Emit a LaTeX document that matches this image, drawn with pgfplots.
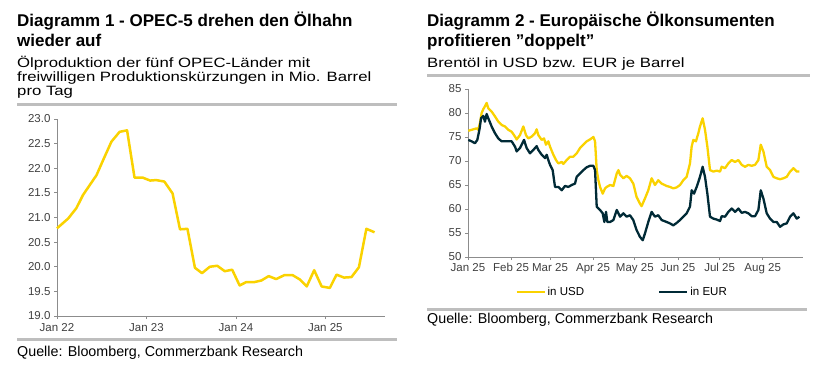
\documentclass[border=0pt]{standalone}
\usepackage{pgfplots}
\pgfplotsset{compat=1.18}
\usepackage{fontspec}
\setmainfont{Liberation Sans}
\newfontfamily\subfont{Liberation Sans}[FakeStretch=1.24]
\definecolor{cbyellow}{RGB}{250,210,0}
\definecolor{cbnavy}{RGB}{0,42,54}
\definecolor{rulegray}{RGB}{190,190,190}
\definecolor{axgray}{RGB}{140,140,140}
\definecolor{tickgray}{RGB}{64,64,64}
\begin{document}
\begin{tikzpicture}
\useasboundingbox (0,0) rectangle (828pt,-376pt);
% titles
\node[anchor=base west,inner sep=0] at (17pt,-26pt) {\fontsize{17}{20}\selectfont\bfseries Diagramm 1 - OPEC-5 drehen den Ölhahn};
\node[anchor=base west,inner sep=0] at (17pt,-46pt) {\fontsize{17}{20}\selectfont\bfseries wieder auf};
\node[anchor=base west,inner sep=0] at (17pt,-67pt) {\subfont\fontsize{13.5}{14}\selectfont Ölproduktion der fünf OPEC-Länder mit};
\node[anchor=base west,inner sep=0] at (17pt,-81pt) {\subfont\fontsize{13.5}{14}\selectfont freiwilligen Produktionskürzungen in Mio. Barrel};
\node[anchor=base west,inner sep=0] at (17pt,-95pt) {\subfont\fontsize{13.5}{14}\selectfont pro Tag};
\node[anchor=base west,inner sep=0] at (427pt,-26pt) {\fontsize{17}{20}\selectfont\bfseries Diagramm 2 - Europäische Ölkonsumenten};
\node[anchor=base west,inner sep=0] at (427pt,-46pt) {\fontsize{17}{20}\selectfont\bfseries profitieren \symbol{34}doppelt\symbol{34}};
\node[anchor=base west,inner sep=0] at (427pt,-67pt) {\subfont\fontsize{13.5}{14}\selectfont Brentöl in USD bzw. EUR je Barrel};
% rules
\draw[rulegray,line width=3pt] (17pt,-104pt) -- (397pt,-104pt);
\draw[rulegray,line width=3pt] (17pt,-339pt) -- (397pt,-339pt);
\draw[rulegray,line width=3pt] (427pt,-75pt) -- (810pt,-75pt);
\draw[rulegray,line width=3pt] (427pt,-309pt) -- (807pt,-309pt);
% sources
\node[anchor=base west,inner sep=0] at (17pt,-356pt) {\fontsize{14.3}{16}\selectfont Quelle: Bloomberg, Commerzbank Research};
\node[anchor=base west,inner sep=0] at (427pt,-323pt) {\fontsize{14.3}{16}\selectfont Quelle: Bloomberg, Commerzbank Research};

\pgfplotsset{cbstyle/.style={
  scale only axis, anchor=south west,
  axis lines*=left,
  axis line style={axgray,line width=0.8pt},
  tick style={axgray,line width=0.8pt},
  tick align=outside, major tick length=3pt,
  ticklabel style={font=\fontsize{11.5}{13}\selectfont, text=tickgray},
  /pgf/number format/assume math mode=true,
  clip=false,
}}
% left chart
\begin{axis}[cbstyle, at={(57pt,-316pt)}, width=328pt, height=197pt,
  xmin=0, xmax=44, ymin=19, ymax=23,
  xtick={0,12,24,36}, xticklabels={Jan 22,Jan 23,Jan 24,Jan 25},
  ytick={19,19.5,20,20.5,21,21.5,22,22.5,23},
  yticklabel style={/pgf/number format/.cd,fixed,fixed zerofill,precision=1},
  xticklabel style={yshift=-1pt},
]
\addplot[cbyellow, line width=2.5pt, line join=round] coordinates {
(0,20.78)(1.5,20.98)(2.6,21.19)(3.5,21.46)(4.4,21.66)(5.3,21.86)(6.2,22.17)(7.3,22.54)(8.4,22.74)(9.4,22.77)
(10.4,21.81)(11.5,21.81)(12.5,21.75)(13.3,21.76)(14.4,21.73)(15.5,21.49)(16.5,20.76)(17.5,20.77)(18.5,19.98)(19.45,19.87)
(20.5,20.0)(21.5,20.02)(22.5,19.91)(23.5,19.94)(24.5,19.62)(25.4,19.69)(26.5,19.69)(27.4,19.72)(28.4,19.81)(29.4,19.75)
(30.5,19.83)(31.6,19.83)(32.6,19.74)(33.5,19.6)(34.5,19.93)(35.5,19.6)(36.6,19.57)(37.5,19.84)(38.5,19.78)(39.5,19.79)
(40.5,19.99)(41.5,20.77)(42.6,20.7)
};
\end{axis}
% right chart
\begin{axis}[cbstyle, at={(468pt,-257pt)}, width=335pt, height=168pt,
  xmin=0, xmax=241, ymin=50, ymax=85,
  xtick={0,31,59,90,120,151,181,212},
  xticklabels={Jan 25,Feb 25,Mar 25,Apr 25,May 25,Jun 25,Jul 25,Aug 25},
  ytick={50,55,...,85},
  legend style={at={(0.46,-0.208)}, anchor=center, draw=none, fill=none,
    font=\fontsize{11.5}{13}\selectfont, legend columns=2,
    /tikz/every even column/.append style={column sep=72pt}},
  legend image code/.code={\draw[#1] (0pt,0pt) -- (28pt,0pt);},
]
\addplot[cbyellow, line width=2.3pt, line join=round] coordinates {
(0.2,76.3)(2.6,76.5)(3.8,76.6)(6.2,76.8)(7.4,76.5)(8.6,77.9)(9.8,80)(11,80.8)(12.2,81.4)(13.4,82.1)(14.6,81)(17,80.3)(19.4,79.3)(21.8,78.2)(24.2,77.5)(26.6,77.2)(29,76.5)(31.4,76.1)(33.8,75.1)(35,74.5)(37.4,75.4)(39.8,77.2)(41.7,75.4)(43.4,74.7)(45.8,75.1)(48.2,75.8)(49.4,76.6)(50.6,75.4)(53,74.4)(54.7,74.7)(56.1,73.4)(57.8,74.1)(59,73)(61.4,71.3)(63.3,70.2)(65,69.5)(67.4,69.8)(68.6,69.4)(71,70.2)(73.4,70.9)(75.8,70.9)(78.2,71.6)(80.6,72.7)(83,73.4)(85.4,74.1)(87.8,74.5)(90.2,75)(91.4,74.1)(92.6,68.1)(93.8,66)(95,64.6)(96.9,63.2)(98.6,64.3)(99.8,64.6)(102.2,65)(104.6,64.8)(107,67.4)(108.2,68.1)(109.4,67.1)(111.8,66.4)(114.1,66.9)(116.5,66.4)(118.9,65.3)(121.3,62.5)(123.7,61.1)(124.9,60.6)(127.3,62.2)(129.7,63.9)(132.1,66.4)(134.5,65)(136.9,66)(139.3,65.3)(142.9,64.8)(145.3,64.6)(147.7,64.3)(150.1,64.5)(152.5,65)(154.9,66)(157.3,66.7)(159.7,69.5)(160.9,73)(162.1,74.4)(164,74.1)(165.7,75.8)(166.9,77.2)(168.8,78.9)(170.5,76.5)(172.2,73)(174.1,68.1)(176.5,67.8)(178.9,68)(181.3,67.8)(182.5,68.8)(184.9,68.5)(187.3,69.5)(189.7,70.2)(192.1,69.8)(194.5,70.2)(196.9,69.2)(199.3,68.8)(201.7,69.2)(204.1,69)(206.5,69.2)(208.9,70.2)(210.6,73.4)(212.5,72)(214.9,68.8)(217.3,68.1)(219.7,66.7)(222.1,66.4)(224.5,66.2)(226.9,66.4)(229.3,66.7)(231.7,67.8)(234.1,68.5)(236.5,67.8)(238.4,67.8)
};
\addlegendentry{in USD}
\addplot[cbnavy, line width=2.3pt, line join=round] coordinates {
(0.2,74.4)(2.6,74.1)(5,73.7)(6.7,74.4)(8.2,76.5)(9.4,78.9)(11,79.4)(12.2,78.2)(13.4,79.8)(14.6,78.9)(17,77.2)(19.4,75.8)(21.8,74.7)(24.2,74.1)(27.8,74.1)(31.4,74.1)(33.8,73)(35,72)(37.4,72.7)(40.3,74.4)(42.2,72.7)(44.6,71.6)(47,72.3)(49.4,73.1)(50.6,72.3)(53,71.3)(55.4,70.6)(56.6,71.3)(57.8,70.2)(59,69.2)(60.9,68.1)(62.6,64.6)(65,64.6)(67.4,63.9)(69.8,64.8)(72.2,64.6)(74.6,65)(77,65.3)(78.2,66.7)(80.6,67.4)(83,68.1)(85.4,68.7)(87.8,69)(90.2,69)(91.4,68.1)(92.6,60.5)(95,59.8)(96.9,59.1)(98.1,57.3)(99.3,59.4)(100.2,57.3)(102.2,57.3)(104.6,57.7)(107,59.8)(109.4,58.4)(111.8,59.1)(114.1,58.4)(116.5,58.7)(118.9,57.7)(121.3,55.6)(123.7,54.2)(125.7,53.5)(127.3,54.9)(129.7,57.3)(132.1,59.4)(134.5,58.4)(136.9,58.7)(139.3,57.7)(142.9,57.3)(145.3,57)(147.7,56.6)(150.1,57.1)(152.5,57.7)(154.9,58.4)(157.3,59.1)(159.7,60.5)(160.9,63.9)(162.6,63.2)(164.5,64.6)(166.9,66.7)(168.8,68.8)(170.5,66.7)(172.2,63.2)(174.1,58.4)(176.5,58)(178.9,57.8)(181.3,57.5)(182.5,58.5)(184.9,58.4)(187.3,59.4)(189.7,60.1)(192.1,59.4)(194.5,60.1)(196.9,59.2)(199.3,59.4)(201.7,59.1)(204.1,58.5)(206.5,58.5)(208.9,59.8)(210.6,63.9)(212.5,62.2)(214.9,59.1)(217.3,58)(219.7,57.3)(222.1,57.3)(224.5,56.3)(226.9,56.8)(229.3,57)(231.7,58.4)(234.1,59.1)(236.5,58)(238.4,58.4)
};
\addlegendentry{in EUR}
\end{axis}
\end{tikzpicture}
\end{document}
